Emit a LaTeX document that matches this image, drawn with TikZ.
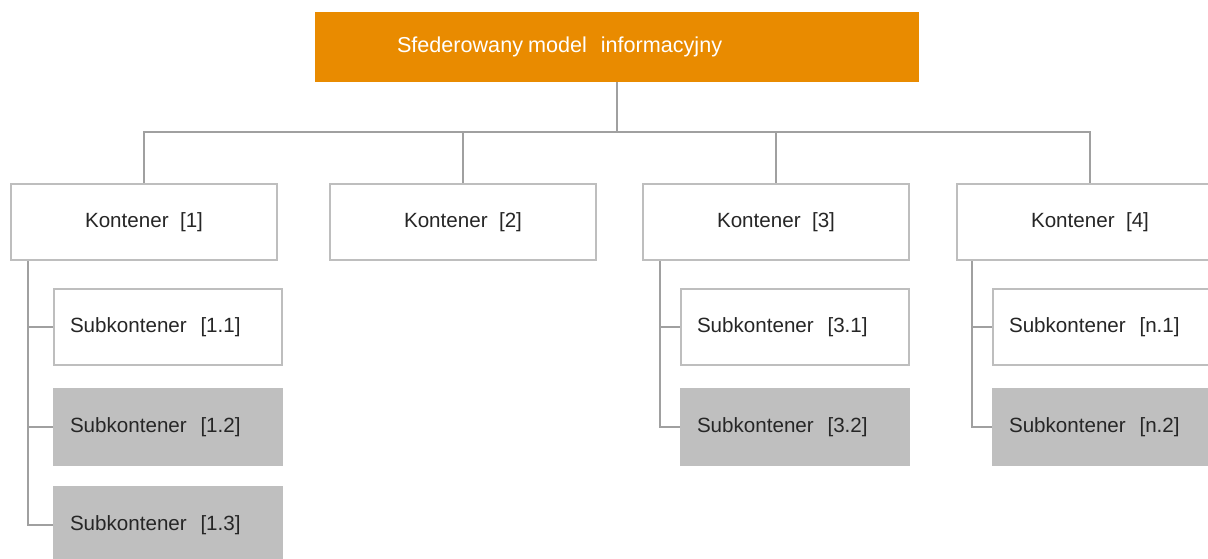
\documentclass[tikz,border=0pt]{standalone}
\usepackage{fontspec}
\setmainfont{Liberation Sans}
\definecolor{fedorange}{HTML}{E98B00}
\definecolor{boxline}{HTML}{BEBEBE}
\definecolor{subgray}{HTML}{BFBFBF}
\definecolor{linkgray}{HTML}{A0A0A0}
\begin{document}
\begin{tikzpicture}
[x=1pt, y=-1pt,
 box/.style={draw=boxline, line width=2pt, fill=white, minimum height=76pt, inner sep=0pt,
   font=\fontsize{20.6}{24}\selectfont, text=black!85},
 kont/.style={box, minimum width=266pt},
 sub/.style={box, text width=196pt, inner xsep=16pt, align=left},
 subg/.style={sub, fill=subgray, draw=subgray},
 link/.style={draw=linkgray, line width=1.6pt}]
\useasboundingbox (0,0) rectangle (1208,558);

\node (model) at (617,47) [fill=fedorange, minimum height=70pt, text width=440pt, inner xsep=82pt,
  inner ysep=0pt, align=left, text=white, font=\fontsize{21.6}{26}\selectfont]
  {Sfederowany\hspace{5pt}model\hspace{14pt}informacyjny};

\node (K1) at (144,222) [kont] {Kontener\ \ [1]};
\node (K2) at (463,222) [kont] {Kontener\ \ [2]};
\node (K3) at (776,222) [kont] {Kontener\ \ [3]};
\node (K4) at (1090,222) [kont] {Kontener\ \ [4]};

\node (S11) at (168,327) [sub] {Subkontener\ \ [1.1]};
\node (S12) at (168,427) [subg] {Subkontener\ \ [1.2]};
\node (S13) at (168,525) [subg] {Subkontener\ \ [1.3]};
\node (S31) at (795,327) [sub] {Subkontener\ \ [3.1]};
\node (S32) at (795,427) [subg] {Subkontener\ \ [3.2]};
\node (Sn1) at (1107,327) [sub] {Subkontener\ \ [n.1]};
\node (Sn2) at (1107,427) [subg] {Subkontener\ \ [n.2]};

\coordinate (bus) at (617,132);
\draw [link] (model.south) -- (bus);
\foreach \k in {1,...,4}
  \draw [link] (bus) -| (K\k);

\foreach \s in {S11,S12,S13}
  \draw [link] ([xshift=18pt]K1.south west) |- (\s.west);
\foreach \s in {S31,S32}
  \draw [link] ([xshift=18pt]K3.south west) |- (\s.west);
\foreach \s in {Sn1,Sn2}
  \draw [link] ([xshift=16pt]K4.south west) |- (\s.west);
\end{tikzpicture}
\end{document}
